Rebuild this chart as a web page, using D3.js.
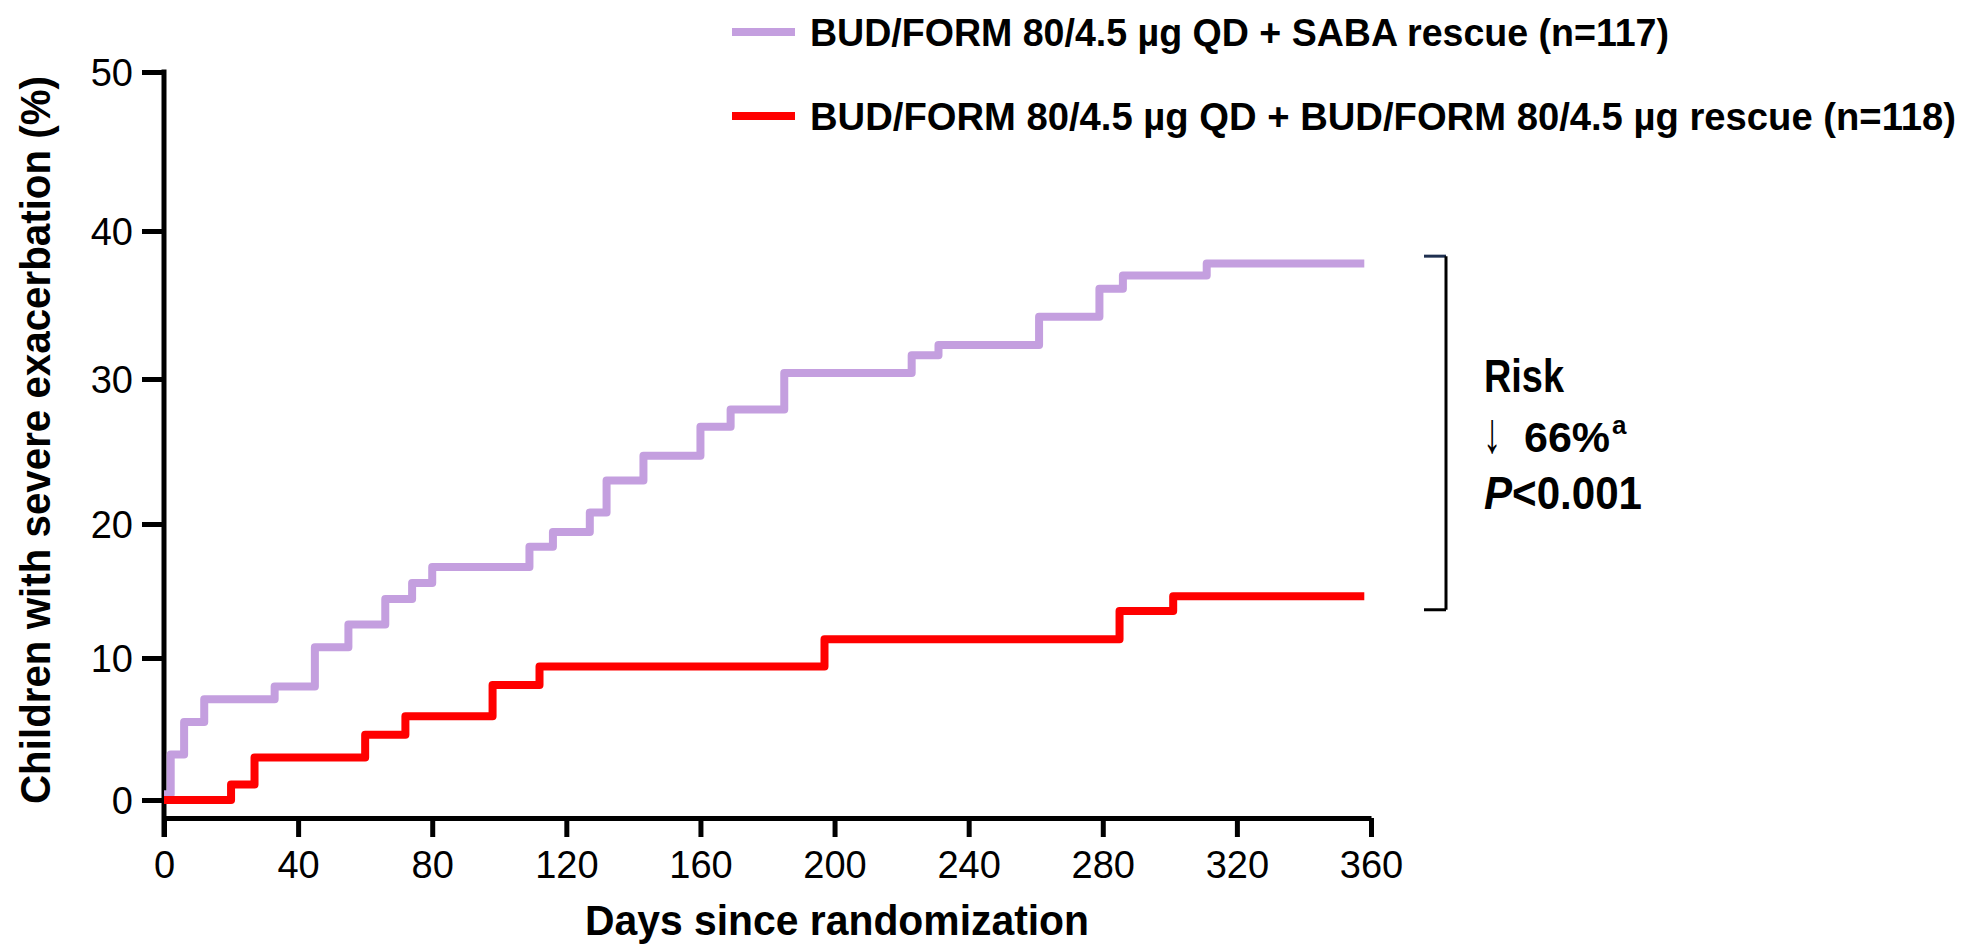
<!DOCTYPE html>
<html>
<head>
<meta charset="utf-8">
<script src="https://cdn.jsdelivr.net/npm/d3@7"></script>
<style>
    body { margin: 0; background: #fff; }
    text { font-family: "Liberation Sans", Arial, sans-serif; fill: #000; }
    .bold { font-weight: bold; }
</style>
</head>
<body>
<script>
// Kaplan-Meier style step data (day of event, cumulative % after event)
const sabaDays = [0, 2, 6, 12, 33, 45, 55, 66, 74, 80, 109, 116, 127, 132, 143, 160, 169, 185, 223, 231, 261, 279, 286, 311, 358];
const sabaPct  = [0.4, 3.2, 5.5, 7.1, 8.0, 10.8, 12.5, 14.4, 15.6, 16.8, 18.3, 19.4, 20.8, 23.0, 24.7, 26.7, 27.9, 30.4, 31.6, 32.3, 34.2, 36.1, 37.0, 37.8, 37.8];
const budDays  = [0, 20, 27, 60, 72, 98, 112, 197, 285, 301, 358];
const budPct   = [0, 1.1, 3.0, 4.6, 5.9, 8.1, 9.4, 11.4, 13.5, 14.6, 14.6];

const xTicks = [0, 40, 80, 120, 160, 200, 240, 280, 320, 360];
const yTicks = [0, 10, 20, 30, 40, 50];

const legendLabels = [
    "BUD/FORM 80/4.5 \u00b5g QD + SABA rescue (n=117)",
    "BUD/FORM 80/4.5 \u00b5g QD + BUD/FORM 80/4.5 \u00b5g rescue (n=118)"
];
const colors = ["#C49FDF", "#FF0000"];

const width = 1985;
const height = 946;
const svg = d3.select("body").append("svg").attr("width", width).attr("height", height);

// scales (the source figure's y ticks are not evenly spaced, so map tick by tick)
const xScale = d3.scaleLinear().domain([0, 360]).range([164, 1371]);
const yScale = d3.scaleLinear().domain(yTicks).range([800, 658, 524, 379, 231, 72]);
const xAxisY = 818;

// x axis
const xAxis = d3.axisBottom(xScale).tickValues(xTicks).tickSize(19).tickSizeOuter(0).tickPadding(14);
const gx = svg.append("g").attr("transform", "translate(0," + xAxisY + ")").call(xAxis);
gx.select(".domain").attr("stroke-width", 5).attr("stroke", "#000");
gx.selectAll(".tick line").attr("stroke-width", 5);
gx.selectAll(".tick text").attr("font-size", 38).attr("dy", "0.72em");

// y axis (offset from x axis)
const yAxis = d3.axisLeft(yScale).tickValues(yTicks).tickSize(22).tickPadding(9);
const gy = svg.append("g").attr("transform", "translate(" + xScale(0) + ",0)").call(yAxis);
gy.select(".domain").remove();
gy.selectAll(".tick line").attr("stroke-width", 5);
gy.selectAll(".tick text").attr("font-size", 38).attr("dy", "0.36em");
svg.append("line")
    .attr("x1", xScale(0)).attr("x2", xScale(0))
    .attr("y1", yScale(50) - 2.5).attr("y2", xAxisY + 19)
    .attr("stroke", "#000").attr("stroke-width", 5);

// axis titles
svg.append("text").attr("class", "bold")
    .attr("x", 585).attr("y", 935)
    .attr("font-size", 43)
    .attr("textLength", 504).attr("lengthAdjust", "spacingAndGlyphs")
    .text("Days since randomization");

svg.append("text").attr("class", "bold")
    .attr("transform", "translate(50,804) rotate(-90)")
    .attr("font-size", 43)
    .attr("textLength", 728).attr("lengthAdjust", "spacingAndGlyphs")
    .text("Children with severe exacerbation (%)");

// step lines
const line = d3.line().x((d) => xScale(d[0])).y((d) => yScale(d[1])).curve(d3.curveStepAfter);
const series = [
    d3.zip(sabaDays, sabaPct),
    d3.zip(budDays, budPct)
];
svg.selectAll("path.km")
    .data(series)
    .enter()
    .append("path")
    .attr("class", "km")
    .attr("d", line)
    .attr("fill", "none")
    .attr("stroke", (d, i) => colors[i])
    .attr("stroke-width", 8)
    .attr("stroke-linejoin", "round");

// legend
const legend = svg.append("g");
const legendY = [32, 116];
const legendWidth = [859, 1146];
legendLabels.forEach((lab, i) => {
    legend.append("line")
        .attr("x1", 732).attr("x2", 795)
        .attr("y1", legendY[i]).attr("y2", legendY[i])
        .attr("stroke", colors[i]).attr("stroke-width", 8);
    legend.append("text").attr("class", "bold")
        .attr("x", 810).attr("y", legendY[i] + 14)
        .attr("font-size", 38.5)
        .attr("textLength", legendWidth[i]).attr("lengthAdjust", "spacingAndGlyphs")
        .text(lab);
});

// bracket + risk annotation
const bx = 1446;
const bTop = yScale(38.3);
const bBot = yScale(13.6);
svg.append("line").attr("x1", bx - 22).attr("x2", bx).attr("y1", bTop).attr("y2", bTop)
    .attr("stroke", "#1F3050").attr("stroke-width", 3);
svg.append("line").attr("x1", bx).attr("x2", bx).attr("y1", bTop).attr("y2", bBot)
    .attr("stroke", "#000").attr("stroke-width", 3);
svg.append("line").attr("x1", bx - 22).attr("x2", bx).attr("y1", bBot).attr("y2", bBot)
    .attr("stroke", "#000").attr("stroke-width", 3);

const risk = svg.append("g").attr("font-size", 46);
risk.append("text").attr("class", "bold").attr("x", 1484).attr("y", 392)
    .attr("textLength", 80).attr("lengthAdjust", "spacingAndGlyphs").text("Risk");
risk.append("text")
    .attr("transform", "translate(1483,452) scale(0.8,1.25)")
    .attr("font-family", "DejaVu Sans").attr("font-size", 46).text("\u2193");
const r2 = risk.append("text").attr("class", "bold").attr("x", 1524).attr("y", 452).attr("font-size", 43);
r2.append("tspan").text("66%");
r2.append("tspan").attr("font-size", 26).attr("dx", 2).attr("dy", -18).text("a");
const r3 = risk.append("text").attr("class", "bold").attr("x", 1484).attr("y", 509)
    .attr("textLength", 158).attr("lengthAdjust", "spacingAndGlyphs");
r3.append("tspan").attr("font-style", "italic").text("P");
r3.append("tspan").text("<0.001");
</script>
</body>
</html>
